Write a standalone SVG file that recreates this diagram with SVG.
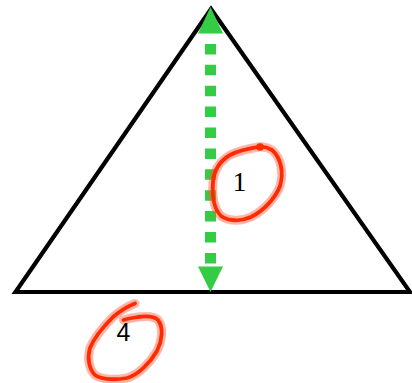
<svg xmlns="http://www.w3.org/2000/svg" width="412" height="383" viewBox="0 0 412 383">
<style>
.tri{fill:none;stroke:#000;stroke-width:4.2;stroke-linejoin:miter;stroke-miterlimit:10}
.dash{stroke:#33cc44;stroke-width:11;stroke-dasharray:10.5 10.4;stroke-dashoffset:10.5}
.head{fill:#33cc44}
.halo{fill:none;stroke:#ff5a3c;stroke-opacity:0.45;stroke-width:9;stroke-linecap:round;stroke-linejoin:round}
.ink{fill:none;stroke:#ff2a00;stroke-width:3.8;stroke-linecap:round;stroke-linejoin:round}
.lbl1{font-family:"Liberation Serif","Times New Roman",serif;font-size:28px;fill:#000;text-anchor:middle}
.lbl4{font-family:"Liberation Sans",Arial,sans-serif;font-size:25px;fill:#000;text-anchor:middle}
</style>
<rect width="412" height="383" fill="#fff"/>
<g id="triangle">
<polygon class="tri" points="15.5,292 211,9 410,292"/>
</g>
<g id="connectors">
<line class="dash" x1="210.5" y1="33.5" x2="210.5" y2="266.5"/>
<polygon class="head" points="210.5,7 198,33.5 223,33.5"/>
<polygon class="head" points="210.5,292 198,266.5 223,266.5"/>
</g>
<g id="mark1">
<path class="halo" d="M260,146.7 C252,148 240,150 230,155 C220,161 214,170 213,182 C212,195 213,208 221,216 C228,221 240,222 251,217 C263,211 275,199 280,186 C284,172 281,158 272,150 C267,147 263,146.5 260,146.7"/>
<path class="ink" d="M260,146.7 C252,148 240,150 230,155 C220,161 214,170 213,182 C212,195 213,208 221,216 C228,221 240,222 251,217 C263,211 275,199 280,186 C284,172 281,158 272,150 C267,147 263,146.5 260,146.7"/>
<circle cx="260" cy="147" r="3.8" fill="#ff2a00"/>
<text class="lbl1" x="239.5" y="190.5">1</text>
</g>
<g id="mark4">
<path class="halo" d="M135,303.5 C128,306 120,311 113,317 C104,326 94,338 90,348 C87,358 89,369 95,375 C102,380 116,380 127,378 C138,375 150,363 157,351 C162,341 164,328 158,320 C154,316 146,316 138,317 C132,318 127,319 123.5,320"/>
<path class="ink" d="M135,303.5 C128,306 120,311 113,317 C104,326 94,338 90,348 C87,358 89,369 95,375 C102,380 116,380 127,378 C138,375 150,363 157,351 C162,341 164,328 158,320 C154,316 146,316 138,317 C132,318 127,319 123.5,320"/>
<text class="lbl4" x="123.5" y="341">4</text>
</g>
</svg>
